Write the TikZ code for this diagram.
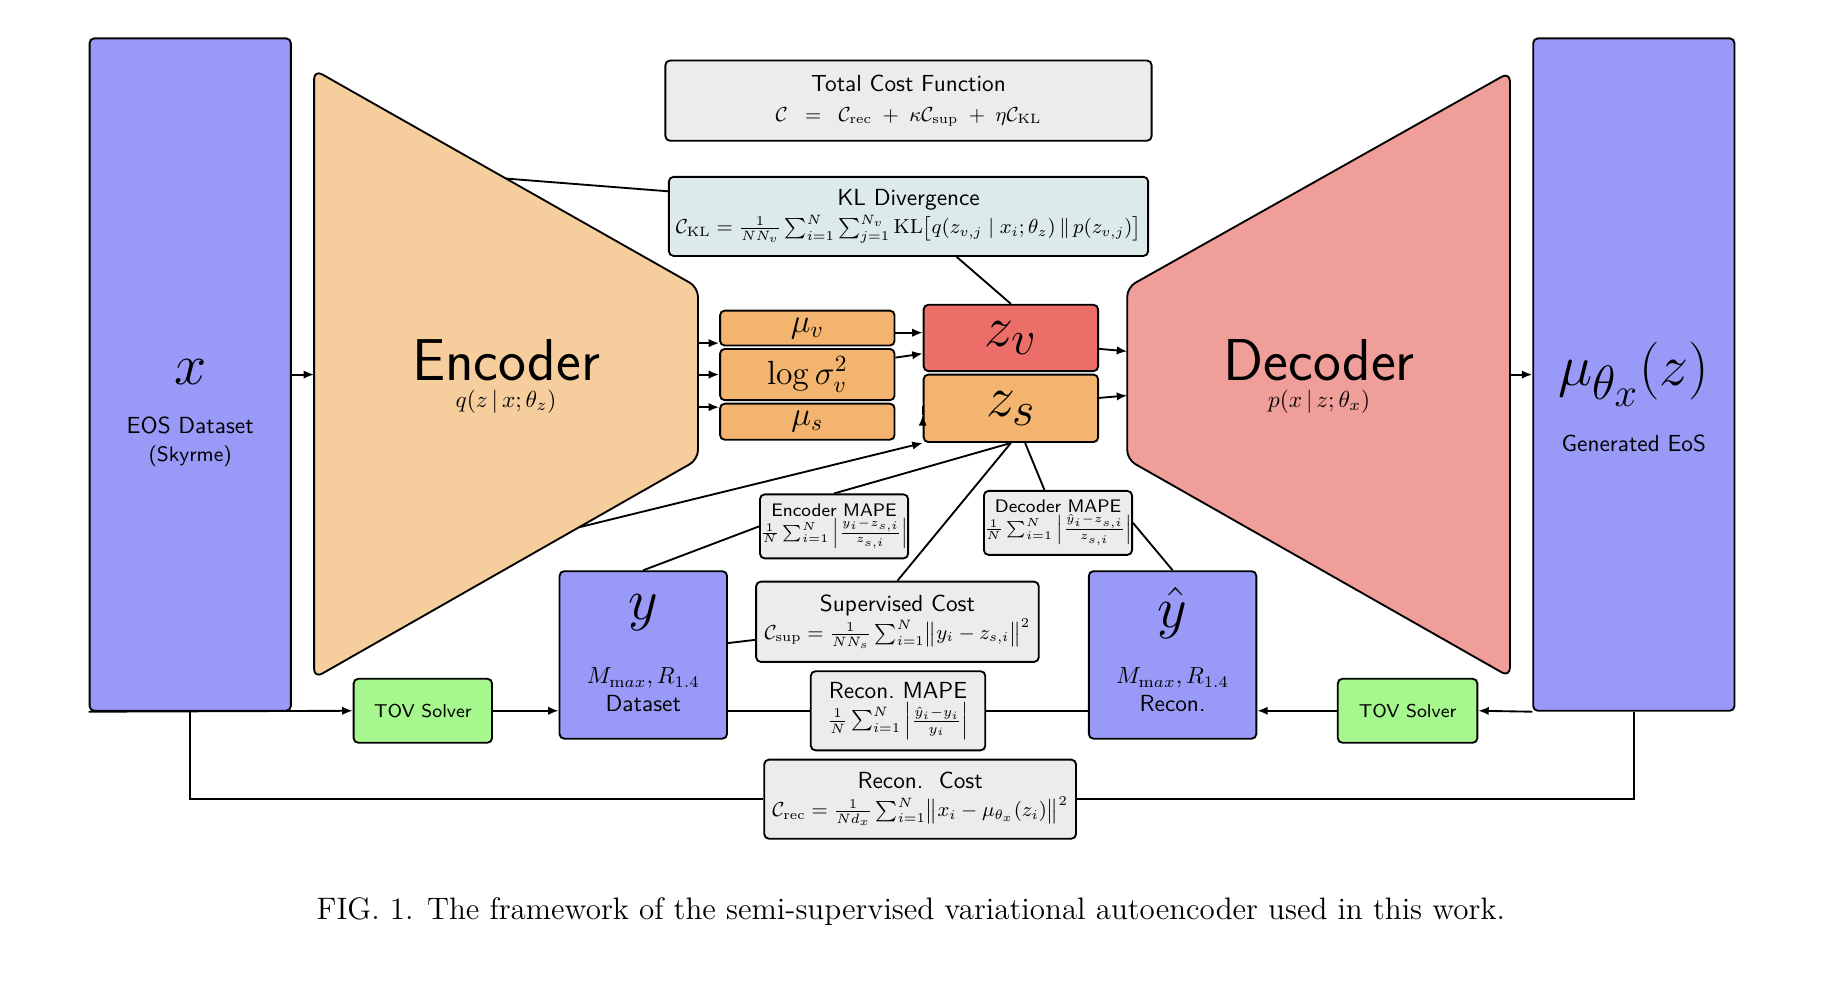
\documentclass[tikz,border=0pt]{standalone}
\usepackage{amsmath}
\usepackage{graphicx}
\usetikzlibrary{arrows.meta,calc}
\definecolor{databox}{RGB}{153,153,247}
\definecolor{encfill}{RGB}{246,205,156}
\definecolor{decfill}{RGB}{239,158,153}
\definecolor{latfill}{RGB}{242,180,110}
\definecolor{zvfill}{RGB}{235,111,104}
\definecolor{costfill}{RGB}{236,236,236}
\definecolor{klfill}{RGB}{221,234,234}
\definecolor{tovfill}{RGB}{166,248,142}
\newcommand{\fml}[1]{\scalebox{0.97}{\fontsize{9}{10}\selectfont$#1$}}
\newcommand{\sfml}[1]{{\fontsize{7}{8}\selectfont$#1$}}
\begin{document}
\begin{tikzpicture}[x=0.5pt,y=-0.5pt,
  box/.style={draw, line width=0.8pt, rounded corners=2pt, inner sep=0pt, font=\sffamily, align=center},
  txt/.style={inner sep=0pt, font=\sffamily, align=center},
  conn/.style={line width=0.8pt},
  arr/.style={line width=0.8pt, -{Latex[length=4.5pt,width=3.6pt]}}]
\useasboundingbox (0,0) rectangle (1568,848);

% data boxes
\node[box, fill=databox, minimum width=86.5pt, minimum height=289pt] (xbox) at (163.5,322) {};
\node[txt] (xlab) at (163.5,320) {\Huge $x$};
\node[txt] (xlab2) at (163.5,366) {EOS Dataset};
\node[txt, font=\sffamily\small] (xlab3) at (163.5,392) {(Skyrme)};

\node[box, fill=databox, minimum width=86.5pt, minimum height=289pt] (mubox) at (1404.5,322) {};
\node[txt] (mulab) at (1404.5,322) {\Huge $\mu_{\theta_x}(z)$};
\node[txt] (mulab2) at (1404.5,381) {Generated EoS};

% encoder / decoder
\coordinate (encTL) at (270,60);
\coordinate (encTR) at (600,247);
\coordinate (encBR) at (600,395);
\coordinate (encBL) at (270,583);
\draw[line width=0.8pt, fill=encfill, rounded corners=4pt] (encTL) -- (encTR) -- (encBR) -- (encBL) -- cycle;
\node[txt, font=\sffamily\fontsize{25.4}{30}\selectfont] (enclab) at (435,310) {Encoder};
\node[txt] (enclab2) at (435,345) {$q(z\,|\,x;\theta_z)$};

\coordinate (decTL) at (969,247);
\coordinate (decTR) at (1298,62);
\coordinate (decBR) at (1298,582);
\coordinate (decBL) at (969,395);
\draw[line width=0.8pt, fill=decfill, rounded corners=4pt] (decTL) -- (decTR) -- (decBR) -- (decBL) -- cycle;
\node[txt, font=\sffamily\fontsize{25.4}{30}\selectfont] (declab) at (1134,310) {Decoder};
\node[txt] (declab2) at (1134,345) {$p(x\,|\,z;\theta_x)$};

% cost boxes
\node[box, fill=costfill, minimum width=209pt, minimum height=34.5pt] (total) at (781,86.5)
  {Total Cost Function\\[1pt] \fml{\mathcal{C}\;\;=\;\;\mathcal{C}_{\mathrm{rec}}\;+\;\kappa\mathcal{C}_{\mathrm{sup}}\;+\;\eta\mathcal{C}_{\mathrm{KL}}}};
\node[box, fill=klfill, minimum width=206pt, minimum height=34pt] (kl) at (781,186)
  {KL Divergence\\ \fml{\mathcal{C}_{\mathrm{KL}}=\frac{1}{NN_v}\sum_{i=1}^{N}\sum_{j=1}^{N_v}\mathrm{KL}\bigl[q(z_{v,j}\mid x_i;\theta_z)\,\|\,p(z_{v,j})\bigr]}};

% latent boxes
\node[box, fill=latfill, minimum width=75pt, minimum height=15pt] (muv) at (694,282) {\Large $\mu_v$};
\node[box, fill=latfill, minimum width=75pt, minimum height=22pt] (logs) at (694,322) {\Large $\log\sigma_v^2$};
\node[box, fill=latfill, minimum width=75pt, minimum height=15.5pt] (mus) at (694,362.5) {\Large $\mu_s$};
\node[box, fill=zvfill, minimum width=75pt, minimum height=28.5pt] (zv) at (869,290.5) {\Huge $z_v$};
\node[box, fill=latfill, minimum width=75pt, minimum height=29pt] (zs) at (869,351) {\Huge $z_s$};

% MAPE boxes
\node[box, fill=costfill, minimum width=60pt, minimum height=27.5pt, font=\sffamily\fontsize{7.8}{9}\selectfont] (encmape) at (717,452.5)
  {Encoder MAPE\\ \sfml{\frac{1}{N}\sum_{i=1}^{N}\left|\frac{y_i-z_{s,i}}{z_{s,i}}\right|}};
\node[box, fill=costfill, minimum width=59.5pt, minimum height=27.5pt, font=\sffamily\fontsize{7.8}{9}\selectfont] (decmape) at (909.5,449.5)
  {Decoder MAPE\\ \sfml{\frac{1}{N}\sum_{i=1}^{N}\left|\frac{\hat{y}_i-z_{s,i}}{z_{s,i}}\right|}};

% y boxes
\node[box, fill=databox, minimum width=72pt, minimum height=72pt] (ybox) at (553,563) {};
\node[txt] (ylab) at (553,527) {\Huge $y$};
\node[txt] (ylab2) at (553,583) {$M_{\mathrm{m}ax},R_{1.4}$};
\node[txt] (ylab3) at (553,605) {Dataset};
\node[box, fill=databox, minimum width=72pt, minimum height=72pt] (yhat) at (1008,563) {};
\node[txt] (yhlab) at (1008,527) {\Huge $\hat{y}$};
\node[txt] (yhlab2) at (1008,583) {$M_{\mathrm{m}ax},R_{1.4}$};
\node[txt] (yhlab3) at (1008,605) {Recon.};

% supervised / recon boxes
\node[box, fill=costfill, minimum width=121.5pt, minimum height=34.5pt] (sup) at (771.5,534.5)
  {Supervised Cost\\ \fml{\mathcal{C}_{\mathrm{sup}}=\frac{1}{NN_s}\sum_{i=1}^{N}\bigl\|y_i-z_{s,i}\bigr\|^2}};
\node[box, fill=costfill, minimum width=75pt, minimum height=34pt] (recmape) at (772,611)
  {Recon.\ MAPE\\ \fml{\frac{1}{N}\sum_{i=1}^{N}\left|\frac{\hat{y}_i-y_i}{y_i}\right|}};
\node[box, fill=costfill, minimum width=134pt, minimum height=34pt] (rec) at (791,687)
  {Recon.\ \ Cost\\ \fml{\mathcal{C}_{\mathrm{rec}}=\frac{1}{Nd_x}\sum_{i=1}^{N}\bigl\|x_i-\mu_{\theta_x}(z_i)\bigr\|^2}};

% TOV solvers
\node[box, fill=tovfill, minimum width=59.5pt, minimum height=27.5pt, font=\sffamily\footnotesize] (tovL) at (363.5,611) {TOV Solver};
\node[box, fill=tovfill, minimum width=60pt, minimum height=27.5pt, font=\sffamily\footnotesize] (tovR) at (1210,611) {TOV Solver};

% connectors
\draw[arr] (xbox.east) -- (xbox.east -| encTL);
\draw[arr] (mubox.west -| decTR) -- (mubox.west);
\coordinate (e1) at (600,295);
\coordinate (e2) at (600,322);
\coordinate (e3) at (600,350);
\draw[arr] (e1) -- (e1 -| muv.west);
\draw[arr] (e2) -- (e2 -| logs.west);
\draw[arr] (e3) -- (e3 -| mus.west);
\draw[arr] ([yshift=-2pt]muv.east) -- ([yshift=-2pt]muv.east -| zv.west);
\draw[arr] ($(logs.north east)!0.18!(logs.south east)$) -- ($(zv.north west)!0.73!(zv.south west)$);
\draw[arr] ($(zs.north west)!0.6!(zs.south west)$ -| mus.east) -- ($(zs.north west)!0.6!(zs.south west)$);
\coordinate (d1) at (969,302);
\coordinate (d2) at (969,340);
\draw[arr] ($(zv.north east)!0.66!(zv.south east)$) -- (d1);
\draw[arr] ($(zs.north east)!0.35!(zs.south east)$) -- (d2);

\coordinate (encTopMid) at ($(encTL)!0.5!(encTR)$);
\draw[conn] (encTopMid) -- ($(kl.north west)!0.19!(kl.south west)$);
\draw[conn] ($(kl.south)!0.2!(kl.south east)$) -- (zv.north);

\coordinate (encLow) at ($(encBL)!0.69!(encBR)$);
\draw[arr] (encLow) -- (zs.south west);
\draw[conn] (encmape.north) -- (zs.south);
\draw[conn] (zs.south) -- (sup.north);
\draw[conn] (decmape) -- (zs);
\draw[conn] (encmape.west) -- (ybox.north);
\draw[conn] (decmape.east) -- (yhat.north);
\draw[conn] ($(sup.north west)!0.72!(sup.south west)$) -- ($(ybox.north east)!0.43!(ybox.south east)$);
\draw[conn] (recmape.west) -- (recmape.west -| ybox.east);
\draw[conn] (recmape.east) -- (recmape.east -| yhat.west);

\draw[arr] (xbox.south west) -- (tovL.west);
\draw[arr] (tovL.east) -- (tovL.east -| ybox.west);
\draw[arr] (mubox.south west) -- (tovR.east);
\draw[arr] (tovR.west) -- (tovR.west -| yhat.east);

\draw[conn] (xbox.south) -- (xbox.south |- rec.west) -- (rec.west);
\draw[conn] (rec.east) -- (mubox.south |- rec.east) -- (mubox.south);

% caption
\node[inner sep=0pt, font=\rmfamily\fontsize{13.35}{15}\selectfont] (caption) at (783,784)
  {FIG. 1. The framework of the semi-supervised variational autoencoder used in this work.};
\end{tikzpicture}
\end{document}
